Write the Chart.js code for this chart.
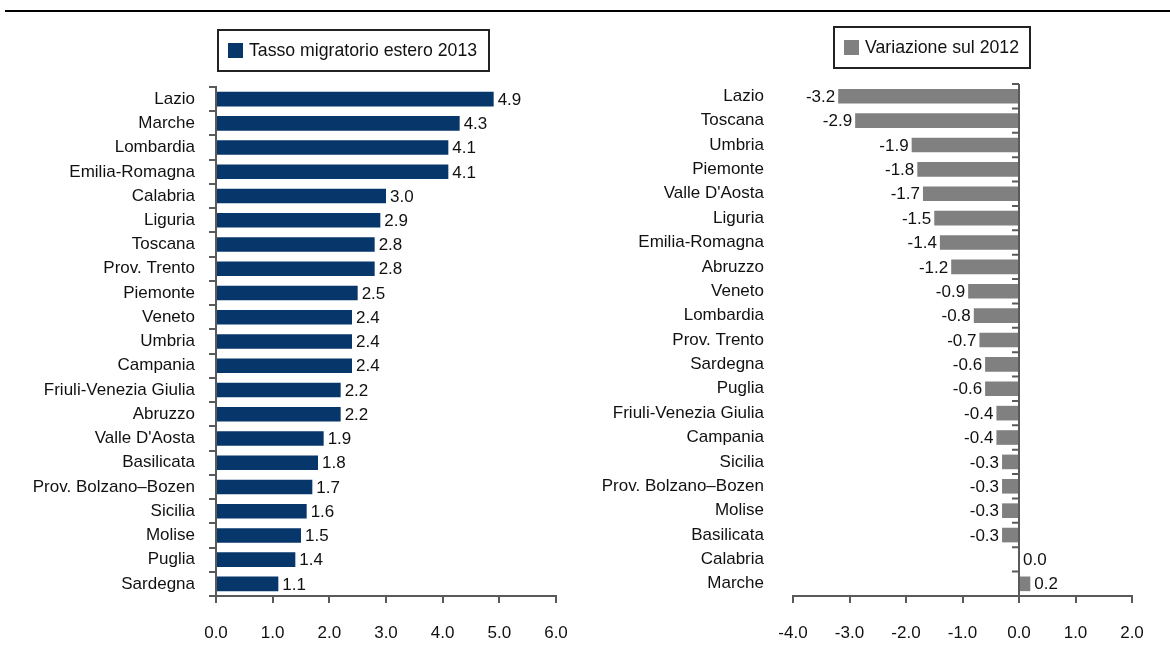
<!DOCTYPE html>
<html lang="it">
<head>
    <meta charset="UTF-8">
    <title>Tasso migratorio estero 2013</title>
    <script src="https://cdn.jsdelivr.net/npm/chart.js"></script>
    <style>
        body { margin: 0; width: 1170px; height: 665px; background: #fff; position: relative; overflow: hidden; font-family: "Liberation Sans", Arial, sans-serif; }
        .topline { position: absolute; left: 5px; right: 0; top: 10px; height: 2px; background: #000; }
        .box { position: absolute; width: 600px; height: 665px; top: 0; }
        .legend { position: absolute; border: 2px solid #222; box-sizing: border-box; font-size: 17.7px; color: #111; display: flex; align-items: center; }
        .legend span.sw { display: inline-block; width: 15px; height: 15px; margin: 0 6px 0 9px; }
    </style>
</head>
<body>
    <div class="topline"></div>
    <div class="box" style="left:0"><canvas id="leftChart"></canvas></div>
    <div class="box" style="left:585px;width:585px"><canvas id="rightChart"></canvas></div>
    <div class="legend" style="left:217px;top:29px;width:273px;height:43px"><span class="sw" style="background:#06366a"></span>Tasso migratorio estero 2013</div>
    <div class="legend" style="left:833px;top:26px;width:198px;height:43px"><span class="sw" style="background:#808080"></span>Variazione sul 2012</div>

    <script>
        // dati: tasso 2013
        const regioni2013 = ['Lazio', 'Marche', 'Lombardia', 'Emilia-Romagna', 'Calabria', 'Liguria', 'Toscana',
            'Prov. Trento', 'Piemonte', 'Veneto', 'Umbria', 'Campania', 'Friuli-Venezia Giulia', 'Abruzzo',
            "Valle D'Aosta", 'Basilicata', 'Prov. Bolzano–Bozen', 'Sicilia', 'Molise', 'Puglia', 'Sardegna'];
        const tasso2013 = [4.9, 4.3, 4.1, 4.1, 3.0, 2.9, 2.8, 2.8, 2.5, 2.4, 2.4, 2.4, 2.2, 2.2, 1.9, 1.8, 1.7, 1.6, 1.5, 1.4, 1.1];

        // dati: variazione sul 2012
        const regioniVar = ['Lazio', 'Toscana', 'Umbria', 'Piemonte', "Valle D'Aosta", 'Liguria', 'Emilia-Romagna',
            'Abruzzo', 'Veneto', 'Lombardia', 'Prov. Trento', 'Sardegna', 'Puglia', 'Friuli-Venezia Giulia',
            'Campania', 'Sicilia', 'Prov. Bolzano–Bozen', 'Molise', 'Basilicata', 'Calabria', 'Marche'];
        const variazione = [-3.2, -2.9, -1.9, -1.8, -1.7, -1.5, -1.4, -1.2, -0.9, -0.8, -0.7, -0.6, -0.6, -0.4,
            -0.4, -0.3, -0.3, -0.3, -0.3, 0.0, 0.2];

        const xTicksLeft = [0, 1, 2, 3, 4, 5, 6];
        const xTicksRight = [-4, -3, -2, -1, 0, 1, 2];

        const FONT = { family: '"Liberation Sans", Arial, sans-serif', size: 17 };
        const AXIS = '#5a5a5a';

        // etichette dei valori accanto alle barre
        const valueLabels = {
            id: 'valueLabels',
            afterDatasetsDraw(chart) {
                const ctx = chart.ctx;
                const meta = chart.getDatasetMeta(0);
                const data = chart.data.datasets[0].data;
                ctx.save();
                ctx.font = `${FONT.size}px ${FONT.family}`;
                ctx.fillStyle = '#111';
                ctx.textBaseline = 'middle';
                meta.data.forEach((bar, i) => {
                    const v = data[i];
                    if (v < 0) {
                        ctx.textAlign = 'right';
                        ctx.fillText(v.toFixed(1), bar.x - 3, bar.y + 1);
                    } else {
                        ctx.textAlign = 'left';
                        ctx.fillText(v.toFixed(1), bar.x + 4, bar.y + 1);
                    }
                });
                ctx.restore();
            }
        };

        // asse verticale sullo zero (grafico di destra)
        const zeroAxis = {
            id: 'zeroAxis',
            afterDatasetsDraw(chart) {
                const x0 = chart.scales.x.getPixelForValue(0);
                const y = chart.scales.y;
                const ctx = chart.ctx;
                ctx.save();
                ctx.strokeStyle = AXIS;
                ctx.lineWidth = 2;
                ctx.beginPath();
                ctx.moveTo(x0, y.top);
                ctx.lineTo(x0, y.bottom);
                const n = chart.data.labels.length;
                const step = (y.bottom - y.top) / n;
                for (let i = 0; i < n; i++) {
                    const yy = y.top + i * step;
                    ctx.moveTo(x0 - 7, yy);
                    ctx.lineTo(x0, yy);
                }
                ctx.stroke();
                ctx.restore();
            }
        };

        function makeChart(id, labels, values, color, ticks, pad, yWidth, yGrid, yPad) {
            return new Chart(document.getElementById(id), {
                type: 'bar',
                data: {
                    labels: labels,
                    datasets: [{
                        data: values,
                        backgroundColor: color,
                        barPercentage: 0.6,
                        categoryPercentage: 1.0
                    }]
                },
                options: {
                    indexAxis: 'y',
                    responsive: true,
                    maintainAspectRatio: false,
                    animation: false,
                    layout: { padding: pad },
                    plugins: { legend: { display: false }, tooltip: { enabled: false } },
                    scales: {
                        x: {
                            min: ticks[0],
                            max: ticks[ticks.length - 1],
                            afterBuildTicks: s => { s.ticks = ticks.map(v => ({ value: v })); },
                            afterFit: s => { s.height = 69; },
                            grid: { drawOnChartArea: false, drawTicks: true, tickLength: 7, color: AXIS, lineWidth: 2 },
                            border: { display: true, color: AXIS, width: 2 },
                            ticks: { font: FONT, color: '#111', padding: 20, callback: v => Number(v).toFixed(1) }
                        },
                        y: {
                            afterFit: s => { s.width = yWidth; },
                            grid: yGrid ? { drawOnChartArea: false, drawTicks: true, tickLength: 7, color: AXIS, lineWidth: 2 } : { display: false },
                            border: { display: yGrid, color: AXIS, width: 2 },
                            ticks: { font: FONT, color: '#111', padding: yPad, autoSkip: false }
                        }
                    }
                },
                plugins: yGrid ? [valueLabels] : [valueLabels, zeroAxis]
            });
        }

        makeChart('leftChart', regioni2013, tasso2013, '#06366a', xTicksLeft,
            { top: 87, right: 44, bottom: 0, left: 0 }, 216, true, 14);
        makeChart('rightChart', regioniVar, variazione, '#808080', xTicksRight,
            { top: 84, right: 38, bottom: 0, left: 0 }, 208, false, 21);
    </script>
</body>
</html>
